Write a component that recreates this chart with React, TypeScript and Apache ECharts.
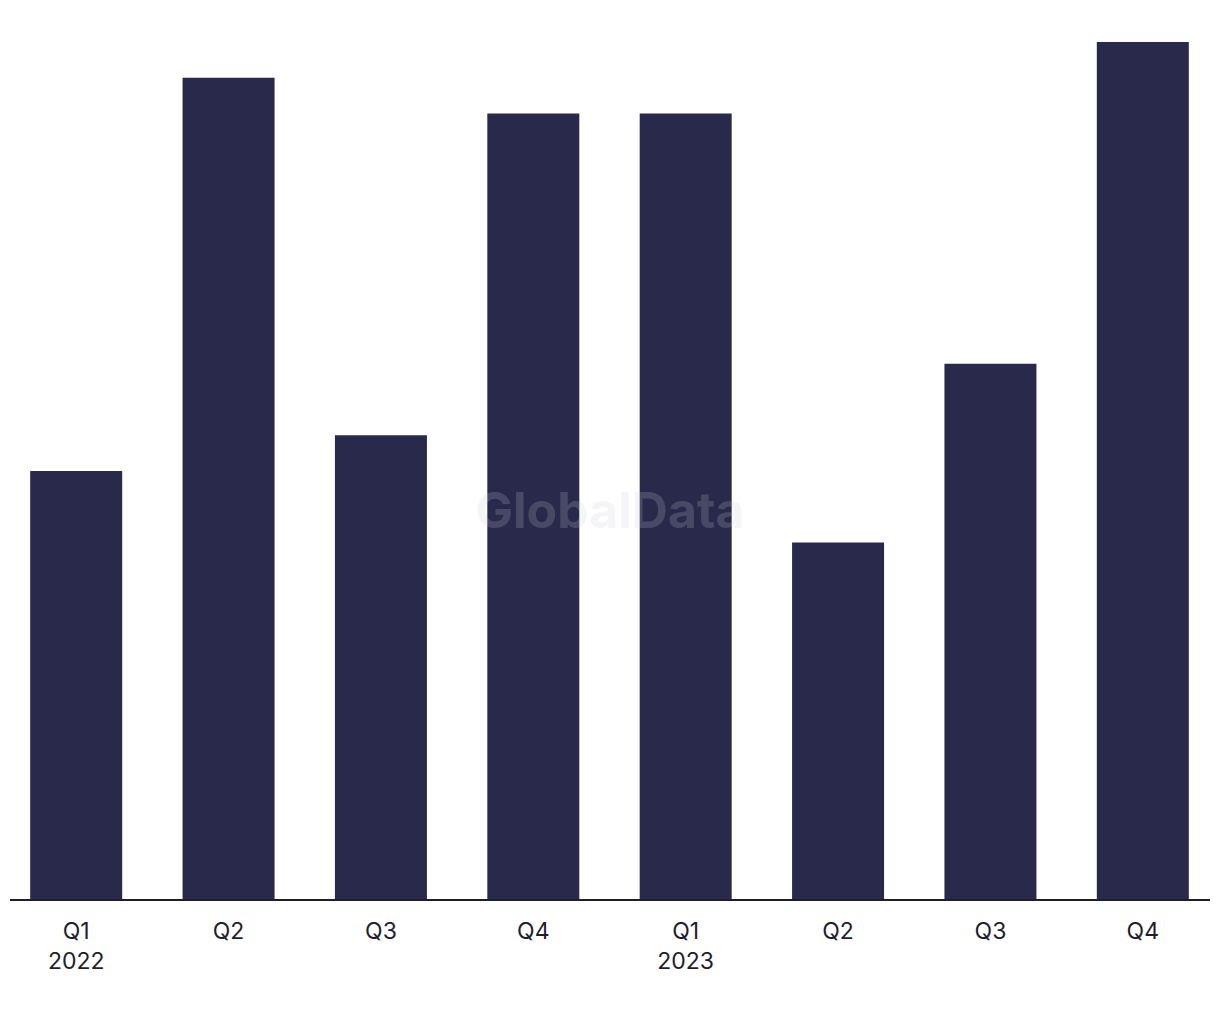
import React, { useEffect, useRef } from "react";
import * as echarts from "echarts";

const categories = ["Q1\n2022", "Q2", "Q3", "Q4", "Q1\n2023", "Q2", "Q3", "Q4"];
const values = [12, 23, 13, 22, 22, 10, 15, 24];

export default function App() {
  const ref = useRef<HTMLDivElement>(null);
  useEffect(() => {
    document.body.style.margin = "0";
    const chart = echarts.init(ref.current!, null, { renderer: "svg" });
    chart.setOption({
      animation: false,
      backgroundColor: "#ffffff",
      grid: { left: 0, right: 1, top: 42, bottom: 120, containLabel: false },
      xAxis: {
        type: "category",
        data: categories,
        axisLine: { show: false },
        axisTick: { show: false },
        axisLabel: {
          color: "#1e1e2e",
          fontSize: 23,
          lineHeight: 30,
          margin: 16,
          fontFamily: "Inter, 'Noto Sans', sans-serif",
        },
      },
      yAxis: { type: "value", min: 0, max: 24, show: false, splitLine: { show: false } },
      series: [
        {
          type: "bar",
          data: values,
          barWidth: 92,
          itemStyle: { color: "#29294b" },
        },
      ],
      graphic: [
        {
          type: "line",
          shape: { x1: 10, y1: 900, x2: 1210, y2: 900 },
          style: { stroke: "#1e1e2e", lineWidth: 2 },
          z: 10,
        },
        {
          type: "text",
          x: 610,
          y: 510,
          z: 20,
          style: {
            text: "GlobalData",
            fontSize: 50,
            fontWeight: "bold",
            fontFamily: "Inter, 'Noto Sans', sans-serif",
            fill: "rgba(205,205,215,0.2)",
            align: "center",
            verticalAlign: "middle",
          },
        },
      ],
    });
    return () => chart.dispose();
  }, []);
  return <div ref={ref} style={{ width: 1220, height: 1020 }} />;
}
